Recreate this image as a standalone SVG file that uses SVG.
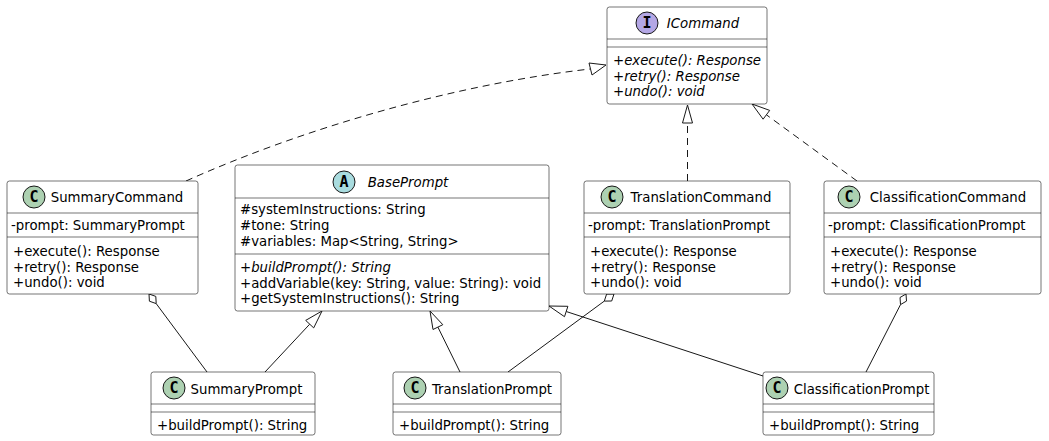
<svg xmlns="http://www.w3.org/2000/svg" width="1049" height="441" viewBox="0 0 1049 441">
<style>
.box{fill:#FFFFFF;stroke:#181818;stroke-width:0.6}
.sep{stroke:#181818;stroke-width:0.6}
.t{font-family:"DejaVu Sans",sans-serif;font-size:13.3px;fill:#000000}
.i{font-style:italic}
.n{text-anchor:middle}
.cC{fill:#ADD1B2;stroke:#181818;stroke-width:1}
.cA{fill:#A9DCDF;stroke:#181818;stroke-width:1}
.cI{fill:#B4A7E5;stroke:#181818;stroke-width:1}
.L{font-family:"DejaVu Sans Mono",monospace;font-weight:bold;font-size:15px;text-anchor:middle;fill:#000000}
.ln{fill:none;stroke:#181818;stroke-width:1}
.d{stroke-dasharray:7,5}
.tri{fill:#FFFFFF;stroke:#181818;stroke-width:1}
</style>
<g id="connectors">
  <path class="ln d" d="M186,181 C300,130 450,85 590,69"/>
  <polygon class="tri" points="606,65 589,63 592,75"/>
  <line class="ln d" x1="687.5" y1="181" x2="687.5" y2="123"/>
  <polygon class="tri" points="687.5,105 682.5,123 692.5,123"/>
  <line class="ln d" x1="857" y1="181" x2="766.4" y2="114.8"/>
  <polygon class="tri" points="752,104 763.1,119.2 769.7,110.4"/>
  <line class="ln" x1="156.2" y1="303.6" x2="207" y2="372"/>
  <polygon class="tri" points="149,294 149.4,301.2 156.2,303.6 155.8,296.4"/>
  <line class="ln" x1="265" y1="372" x2="309.7" y2="324.2"/>
  <polygon class="tri" points="322,311 313.7,327.9 305.7,320.4"/>
  <line class="ln" x1="460" y1="372" x2="437.9" y2="327.1"/>
  <polygon class="tri" points="430,311 433,329.5 442.8,324.7"/>
  <line class="ln" x1="763" y1="376" x2="566.2" y2="311.5"/>
  <polygon class="tri" points="549,306 564.5,316.7 567.9,306.3"/>
  <line class="ln" x1="604.3" y1="301.1" x2="508" y2="372"/>
  <polygon class="tri" points="614,294 606.6,294.1 604.3,301.1 611.7,301"/>
  <line class="ln" x1="900.5" y1="304.6" x2="866" y2="372"/>
  <polygon class="tri" points="906,294 900,297.5 900.5,304.6 906.5,301.1"/>
</g>
<g id="ICommand">
  <rect class="box" x="607" y="7" width="160" height="97" rx="2.5"/>
  <circle class="cI" cx="647" cy="23" r="11"/>
  <text class="L" x="647" y="28">I</text>
  <text class="t i n" x="703" y="28">ICommand</text>
  <line class="sep" x1="607" y1="39" x2="767" y2="39"/>
  <line class="sep" x1="607" y1="47" x2="767" y2="47"/>
  <text class="t i" x="613" y="65">+execute(): Response</text>
  <text class="t i" x="613" y="81">+retry(): Response</text>
  <text class="t i" x="613" y="96">+undo(): void</text>
</g>
<g id="SummaryCommand">
  <rect class="box" x="7" y="181" width="191" height="113" rx="2.5"/>
  <circle class="cC" cx="34" cy="197" r="11"/>
  <text class="L" x="34" y="202">C</text>
  <text class="t n" x="117" y="202">SummaryCommand</text>
  <line class="sep" x1="7" y1="213" x2="198" y2="213"/>
  <text class="t" x="11" y="230">-prompt: SummaryPrompt</text>
  <line class="sep" x1="7" y1="237" x2="198" y2="237"/>
  <text class="t" x="13" y="256">+execute(): Response</text>
  <text class="t" x="13" y="272">+retry(): Response</text>
  <text class="t" x="13" y="287">+undo(): void</text>
</g>
<g id="BasePrompt">
  <rect class="box" x="235" y="165" width="314" height="146" rx="2.5"/>
  <circle class="cA" cx="344" cy="182" r="11"/>
  <text class="L" x="344" y="187">A</text>
  <text class="t i n" x="408" y="187">BasePrompt</text>
  <line class="sep" x1="235" y1="198" x2="549" y2="198"/>
  <text class="t" x="240" y="214">#systemInstructions: String</text>
  <text class="t" x="240" y="230">#tone: String</text>
  <text class="t" x="240" y="246">#variables: Map&lt;String, String&gt;</text>
  <line class="sep" x1="235" y1="254" x2="549" y2="254"/>
  <text class="t i" x="240" y="272">+buildPrompt(): String</text>
  <text class="t" x="240" y="288">+addVariable(key: String, value: String): void</text>
  <text class="t" x="240" y="303">+getSystemInstructions(): String</text>
</g>
<g id="TranslationCommand">
  <rect class="box" x="584" y="181" width="206" height="113" rx="2.5"/>
  <circle class="cC" cx="612" cy="197" r="11"/>
  <text class="L" x="612" y="202">C</text>
  <text class="t n" x="701" y="202">TranslationCommand</text>
  <line class="sep" x1="584" y1="213" x2="790" y2="213"/>
  <text class="t" x="588" y="230">-prompt: TranslationPrompt</text>
  <line class="sep" x1="584" y1="237" x2="790" y2="237"/>
  <text class="t" x="590" y="256">+execute(): Response</text>
  <text class="t" x="590" y="272">+retry(): Response</text>
  <text class="t" x="590" y="287">+undo(): void</text>
</g>
<g id="ClassificationCommand">
  <rect class="box" x="824" y="181" width="217" height="113" rx="2.5"/>
  <circle class="cC" cx="849" cy="197" r="11"/>
  <text class="L" x="849" y="202">C</text>
  <text class="t n" x="948" y="202">ClassificationCommand</text>
  <line class="sep" x1="824" y1="213" x2="1041" y2="213"/>
  <text class="t" x="828" y="230">-prompt: ClassificationPrompt</text>
  <line class="sep" x1="824" y1="237" x2="1041" y2="237"/>
  <text class="t" x="830" y="256">+execute(): Response</text>
  <text class="t" x="830" y="272">+retry(): Response</text>
  <text class="t" x="830" y="287">+undo(): void</text>
</g>
<g id="SummaryPrompt">
  <rect class="box" x="151" y="372" width="164" height="63" rx="2.5"/>
  <circle class="cC" cx="174" cy="388" r="11"/>
  <text class="L" x="174" y="393">C</text>
  <text class="t n" x="246.5" y="394">SummaryPrompt</text>
  <line class="sep" x1="151" y1="404" x2="315" y2="404"/>
  <line class="sep" x1="151" y1="412" x2="315" y2="412"/>
  <text class="t" x="157" y="430">+buildPrompt(): String</text>
</g>
<g id="TranslationPrompt">
  <rect class="box" x="393" y="372" width="168" height="63" rx="2.5"/>
  <circle class="cC" cx="415" cy="388" r="11"/>
  <text class="L" x="415" y="393">C</text>
  <text class="t n" x="492" y="394">TranslationPrompt</text>
  <line class="sep" x1="393" y1="404" x2="561" y2="404"/>
  <line class="sep" x1="393" y1="412" x2="561" y2="412"/>
  <text class="t" x="399" y="430">+buildPrompt(): String</text>
</g>
<g id="ClassificationPrompt">
  <rect class="box" x="763" y="372" width="171" height="63" rx="2.5"/>
  <circle class="cC" cx="777" cy="388" r="11"/>
  <text class="L" x="777" y="393">C</text>
  <text class="t n" x="861.5" y="394">ClassificationPrompt</text>
  <line class="sep" x1="763" y1="404" x2="934" y2="404"/>
  <line class="sep" x1="763" y1="412" x2="934" y2="412"/>
  <text class="t" x="769" y="430">+buildPrompt(): String</text>
</g>
</svg>
